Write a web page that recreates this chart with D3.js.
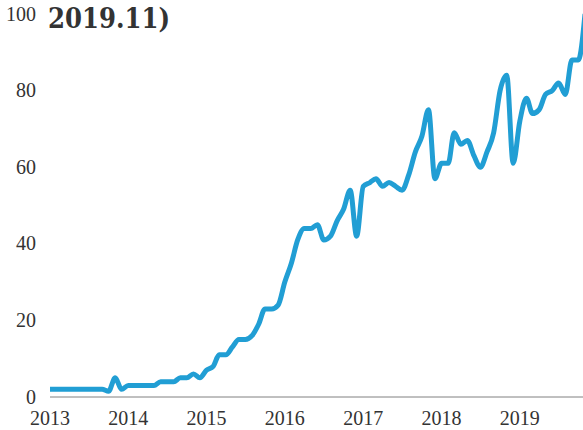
<!DOCTYPE html>
<html>
<head>
<meta charset="utf-8">
<script src="https://cdn.jsdelivr.net/npm/d3@7"></script>
<style>
	body { margin: 0; background: #fff; }
	svg { display: block; }
</style>
</head>
<body>
<svg id="chart" width="583" height="430"></svg>
<script>
// monthly values, 2013-01 .. 2019-11
var startMonth = "2013-01";
var values = [
	2, 2, 2, 2, 2, 2, 2, 2, 2, 1.5, 5, 2,
	3, 3, 3, 3, 3, 4, 4, 4, 5, 5, 6, 5,
	7, 8, 11, 11, 13, 15, 15, 16, 19, 23, 23, 24,
	30, 35, 41, 44, 44, 45, 41, 42, 46, 49, 54, 42,
	55, 56, 57, 55, 56, 55, 54, 58, 64, 68, 75, 57,
	61, 61, 69, 66, 67, 63, 60, 64, 69, 80, 84, 61,
	72, 78, 74, 75, 79, 80, 82, 79, 88, 88, 100
];
var yTicks = [0, 20, 40, 60, 80, 100];
var xTicks = [2013, 2014, 2015, 2016, 2017, 2018, 2019];
var titleText = "2019.11)";

var svg = d3.select("#chart");
var tickFont = "'Liberation Serif', serif";
var titleFont = "'DejaVu Serif', serif";

var parse = d3.timeParse("%Y-%m");
var t0 = parse(startMonth);
var data = values.map(function(v, i) {
	return { date: d3.timeMonth.offset(t0, i), value: v };
});

var x = d3.scaleTime()
	.domain([t0, data[data.length - 1].date])
	.range([50, 585]);
var y = d3.scaleLinear()
	.domain([0, 100])
	.range([397, 14]);

// baseline
svg.append("line")
	.attr("x1", 50).attr("x2", 583)
	.attr("y1", y(0)).attr("y2", y(0))
	.attr("stroke", "#808080")
	.attr("stroke-width", 1);

// y labels
svg.append("g").selectAll("text")
	.data(yTicks)
	.enter().append("text")
	.attr("x", 36)
	.attr("y", function(d) { return y(d); })
	.attr("dy", "0.33em")
	.attr("text-anchor", "end")
	.style("font-family", tickFont)
	.style("font-size", "20px")
	.style("fill", "#333")
	.text(function(d) { return d; });

// x labels
svg.append("g").selectAll("text")
	.data(xTicks)
	.enter().append("text")
	.attr("x", function(d) { return x(new Date(d, 0, 1)); })
	.attr("y", 418)
	.attr("dy", "0.33em")
	.attr("text-anchor", "middle")
	.style("font-family", tickFont)
	.style("font-size", "20px")
	.style("fill", "#333")
	.text(function(d) { return d; });

var line = d3.line()
	.x(function(d) { return x(d.date); })
	.y(function(d) { return y(d.value); })
	.curve(d3.curveMonotoneX);

svg.append("path")
	.datum(data)
	.attr("d", line)
	.attr("fill", "none")
	.attr("stroke", "#219ed4")
	.attr("stroke-width", 5)
	.attr("stroke-linejoin", "round");

// title (cut off at top)
svg.append("text")
	.attr("x", 48)
	.attr("y", 28)
	.attr("textLength", 122)
	.attr("lengthAdjust", "spacingAndGlyphs")
	.style("font-family", titleFont)
	.style("font-size", "27px")
	.style("font-weight", "bold")
	.style("fill", "#333")
	.text(titleText);
</script>
</body>
</html>
